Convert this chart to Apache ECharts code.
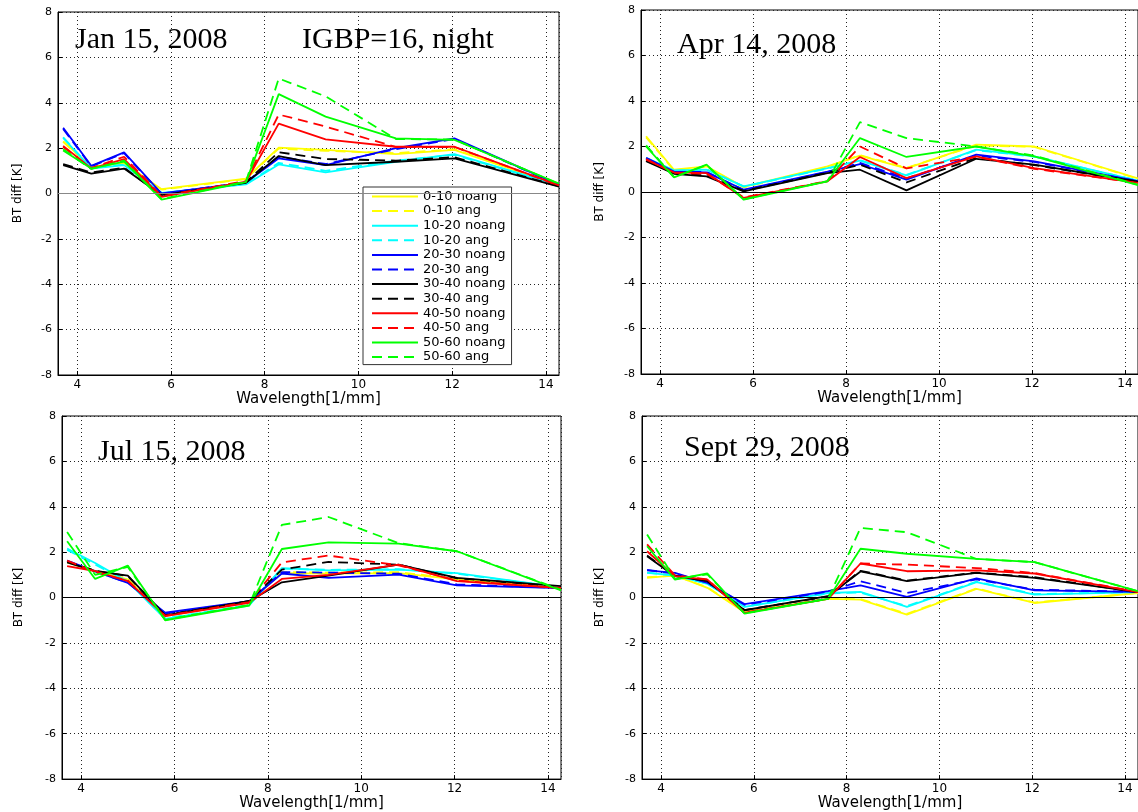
<!DOCTYPE html>
<html>
<head>
<meta charset="utf-8">
<script src="https://cdn.jsdelivr.net/npm/echarts@6/dist/echarts.min.js"></script>
<style>
html,body{margin:0;padding:0;background:#fff;}
#chart{width:1138px;height:812px;}
</style>
</head>
<body>
<div id="chart"></div>
<script>
// ---------------- data ----------------
const wavelength = [3.70, 4.30, 5.00, 5.80, 7.60, 8.30, 9.30, 10.80, 12.05, 14.28];
const seriesNames = ['0-10 noang', '0-10 ang', '10-20 noang', '10-20 ang', '20-30 noang', '20-30 ang',
  '30-40 noang', '30-40 ang', '40-50 noang', '40-50 ang', '50-60 noang', '50-60 ang'];
const panelTitles = ['Jan 15, 2008', 'Apr 14, 2008', 'Jul 15, 2008', 'Sept 29, 2008'];
const subTitle = 'IGBP=16, night';
const yTicks = [-8, -6, -4, -2, 0, 2, 4, 6, 8];

const janValues = [
  [2.30, 1.18, 1.33, 0.19, 0.66, 2.02, 1.92, 1.74, 1.92, 0.37],
  [2.28, 1.15, 1.36, 0.17, 0.64, 1.98, 1.88, 1.78, 1.95, 0.36],
  [2.45, 1.10, 1.25, 0.03, 0.40, 1.28, 0.93, 1.40, 1.74, 0.37],
  [2.48, 1.12, 1.28, 0.02, 0.42, 1.35, 1.00, 1.45, 1.70, 0.36],
  [2.90, 1.22, 1.81, 0.00, 0.48, 1.55, 1.25, 2.00, 2.43, 0.38],
  [2.85, 1.20, 1.78, -0.02, 0.50, 1.62, 1.30, 1.95, 2.40, 0.37],
  [1.25, 0.88, 1.10, -0.07, 0.47, 1.65, 1.25, 1.40, 1.55, 0.30],
  [1.30, 0.92, 1.14, -0.09, 0.50, 1.82, 1.52, 1.45, 1.60, 0.32],
  [2.10, 1.10, 1.52, -0.15, 0.52, 3.08, 2.39, 2.06, 2.06, 0.36],
  [2.05, 1.12, 1.62, -0.12, 0.55, 3.48, 2.95, 2.05, 2.05, 0.35],
  [1.90, 1.10, 1.40, -0.27, 0.50, 4.38, 3.39, 2.43, 2.36, 0.44],
  [1.95, 1.08, 1.45, -0.25, 0.52, 5.07, 4.28, 2.40, 2.38, 0.42]
];
const aprValues = [
  [2.45, 0.98, 1.13, 0.22, 1.13, 1.60, 1.04, 2.08, 2.00, 0.60],
  [2.40, 0.95, 1.10, 0.20, 1.10, 1.62, 1.06, 2.05, 1.98, 0.58],
  [1.50, 0.95, 0.98, 0.25, 1.05, 1.38, 0.73, 1.86, 1.57, 0.50],
  [1.48, 0.93, 1.00, 0.24, 1.03, 1.40, 0.75, 1.84, 1.55, 0.50],
  [1.50, 0.90, 0.86, 0.10, 0.90, 1.23, 0.54, 1.64, 1.35, 0.48],
  [1.45, 0.88, 0.88, 0.08, 0.88, 1.28, 0.60, 1.60, 1.32, 0.47],
  [1.35, 0.80, 0.69, 0.03, 0.83, 0.98, 0.07, 1.46, 1.20, 0.45],
  [1.38, 0.82, 0.72, 0.05, 0.85, 1.20, 0.42, 1.50, 1.18, 0.45],
  [1.42, 0.86, 0.83, -0.26, 0.47, 1.54, 0.61, 1.57, 1.05, 0.40],
  [1.45, 0.84, 0.80, -0.24, 0.48, 2.00, 1.04, 1.55, 1.02, 0.40],
  [2.00, 0.64, 1.20, -0.34, 0.47, 2.37, 1.54, 2.00, 1.57, 0.30],
  [2.05, 0.66, 1.18, -0.32, 0.48, 3.07, 2.37, 2.00, 1.60, 0.32]
];
const julValues = [
  [1.55, 1.15, 0.80, -0.82, -0.20, 1.08, 1.05, 1.08, 0.80, 0.43],
  [1.58, 1.18, 0.82, -0.80, -0.18, 1.12, 1.10, 1.12, 0.82, 0.43],
  [2.16, 1.52, 0.70, -0.94, -0.35, 1.30, 1.20, 1.23, 1.08, 0.45],
  [2.10, 1.45, 0.72, -0.92, -0.33, 1.28, 1.22, 1.25, 1.05, 0.44],
  [1.63, 1.15, 0.65, -0.67, -0.16, 1.06, 0.87, 1.01, 0.54, 0.42],
  [1.60, 1.15, 0.66, -0.70, -0.18, 1.12, 1.10, 1.05, 0.58, 0.42],
  [1.55, 1.16, 0.97, -0.79, -0.16, 0.67, 0.97, 1.45, 0.87, 0.50],
  [1.58, 1.18, 0.95, -0.78, -0.15, 1.23, 1.57, 1.45, 0.85, 0.48],
  [1.38, 1.17, 0.72, -0.82, -0.23, 0.82, 1.00, 1.45, 0.72, 0.42],
  [1.63, 1.12, 0.75, -0.80, -0.20, 1.55, 1.85, 1.42, 0.75, 0.42],
  [2.48, 0.82, 1.41, -1.00, -0.35, 2.14, 2.43, 2.38, 2.04, 0.32],
  [2.89, 1.00, 1.35, -0.98, -0.33, 3.20, 3.55, 2.40, 2.04, 0.34]
];
const sepValues = [
  [0.87, 0.98, 0.43, -0.65, -0.06, -0.09, -0.75, 0.38, -0.24, 0.20],
  [0.90, 0.96, 0.45, -0.63, -0.05, -0.07, -0.72, 0.40, -0.22, 0.20],
  [1.09, 0.98, 0.60, -0.41, 0.20, 0.25, -0.41, 0.68, 0.13, 0.24],
  [1.10, 0.97, 0.62, -0.40, 0.18, 0.22, -0.38, 0.70, 0.15, 0.24],
  [1.20, 1.09, 0.65, -0.29, 0.28, 0.54, 0.03, 0.84, 0.32, 0.25],
  [1.22, 1.05, 0.66, -0.32, 0.26, 0.72, 0.20, 0.80, 0.35, 0.25],
  [1.82, 0.94, 0.72, -0.56, 0.06, 1.15, 0.72, 1.09, 0.87, 0.24],
  [1.85, 0.96, 0.74, -0.55, 0.05, 1.18, 0.75, 1.10, 0.90, 0.24],
  [2.04, 0.94, 0.79, -0.68, -0.06, 1.50, 1.16, 1.20, 1.06, 0.24],
  [2.34, 0.98, 0.80, -0.66, -0.05, 1.50, 1.45, 1.30, 1.08, 0.25],
  [2.26, 0.79, 1.06, -0.71, -0.06, 2.15, 1.93, 1.70, 1.56, 0.28],
  [2.78, 0.82, 1.02, -0.69, -0.05, 3.07, 2.88, 1.70, 1.56, 0.28]
];

// ---------------- styles / layout ----------------
const panelValues = [janValues, aprValues, julValues, sepValues];
const lineColors = ['#ffff00', '#ffff00', '#00ffff', '#00ffff', '#0000ff', '#0000ff',
  '#000000', '#000000', '#ff0000', '#ff0000', '#00ff00', '#00ff00'];
const grids = [
  {left: 58, top: 12, width: 501, height: 363},
  {left: 641, top: 10, width: 501, height: 364},
  {left: 62, top: 416, width: 499, height: 364},
  {left: 642, top: 416, width: 501, height: 364}
];
const yNameGaps = [34, 35, 37, 36];
const zeroColors = ['#888888', '#000000', '#000000', '#000000'];
const sansFont = 'DejaVu Sans';

const xAxes = grids.map((g, i) => ({
  type: 'value', gridIndex: i, min: 3.59, max: 14.28, splitNumber: 5,
  name: 'Wavelength[1/mm]', nameLocation: 'middle', nameGap: 13,
  nameTextStyle: {fontFamily: sansFont, fontSize: 15, color: '#000'},
  axisLine: {show: true, onZero: false, lineStyle: {color: '#000', width: 1}},
  axisTick: {show: true, inside: true, length: 4, lineStyle: {color: '#000'}},
  axisLabel: {show: true, showMinLabel: false, showMaxLabel: false, margin: 4,
    fontFamily: sansFont, fontSize: 12, color: '#000'},
  splitLine: {show: true, lineStyle: {color: '#222', type: [1, 3], width: 1}}
}));
const yAxes = grids.map((g, i) => ({
  type: 'value', gridIndex: i, min: yTicks[0], max: yTicks[yTicks.length - 1], interval: 2,
  name: 'BT diff [K]', nameLocation: 'middle', nameGap: yNameGaps[i],
  nameTextStyle: {fontFamily: sansFont, fontSize: 12, color: '#000'},
  axisLine: {show: true, lineStyle: {color: '#000', width: 1}},
  axisTick: {show: true, inside: true, length: 4, lineStyle: {color: '#000'}},
  axisLabel: {show: true, margin: 6, fontFamily: sansFont, fontSize: 11, color: '#000'},
  splitLine: {show: true, lineStyle: {color: '#222', type: [1, 3], width: 1}}
}));

const series = [];
panelValues.forEach((vals, p) => {
  vals.forEach((row, i) => {
    const s = {
      type: 'line', name: seriesNames[i], xAxisIndex: p, yAxisIndex: p,
      data: row.map((v, k) => [wavelength[k], v]),
      symbol: 'none', showSymbol: false, smooth: false, silent: true,
      color: lineColors[i],
      lineStyle: {color: lineColors[i], width: 1.8, type: (i % 2 === 1) ? [10, 6] : 'solid'},
      emphasis: {disabled: true}
    };
    if (i === 0) {
      s.markLine = {
        silent: true, symbol: ['none', 'none'], label: {show: false},
        lineStyle: {color: zeroColors[p], type: 'solid', width: 1.2},
        data: [{yAxis: 0}]
      };
    }
    series.push(s);
  });
});

const titleFont = '30px "Liberation Serif", "DejaVu Serif", serif';
const graphics = [
  {type: 'text', x: 75, y: 40, style: {text: panelTitles[0], font: titleFont, fill: '#000', verticalAlign: 'middle'}},
  {type: 'text', x: 302, y: 40, style: {text: subTitle, font: titleFont, fill: '#000', verticalAlign: 'middle'}},
  {type: 'text', x: 677, y: 45, style: {text: panelTitles[1], font: titleFont, fill: '#000', verticalAlign: 'middle'}},
  {type: 'text', x: 98, y: 452, style: {text: panelTitles[2], font: titleFont, fill: '#000', verticalAlign: 'middle'}},
  {type: 'text', x: 684, y: 448, style: {text: panelTitles[3], font: titleFont, fill: '#000', verticalAlign: 'middle'}}
];

const chart = echarts.init(document.getElementById('chart'), null, {renderer: 'canvas'});
chart.setOption({
  animation: false,
  backgroundColor: '#fff',
  grid: grids.map(g => Object.assign({show: true, borderColor: '#000', borderWidth: 1, backgroundColor: 'transparent'}, g)),
  xAxis: xAxes,
  yAxis: yAxes,
  legend: {
    show: true, orient: 'vertical', left: 363, top: 187,
    data: seriesNames, selectedMode: false,
    backgroundColor: '#fff', borderColor: '#333', borderWidth: 1,
    padding: [3, 6, 1, 8], itemGap: 1.6, itemWidth: 46, itemHeight: 13,
    itemStyle: {color: 'rgba(0,0,0,0)', borderColor: 'rgba(0,0,0,0)', borderWidth: 0, opacity: 0},
    textStyle: {fontFamily: sansFont, fontSize: 13, color: '#000'}
  },
  graphic: graphics,
  series: series
});
</script>
</body>
</html>
